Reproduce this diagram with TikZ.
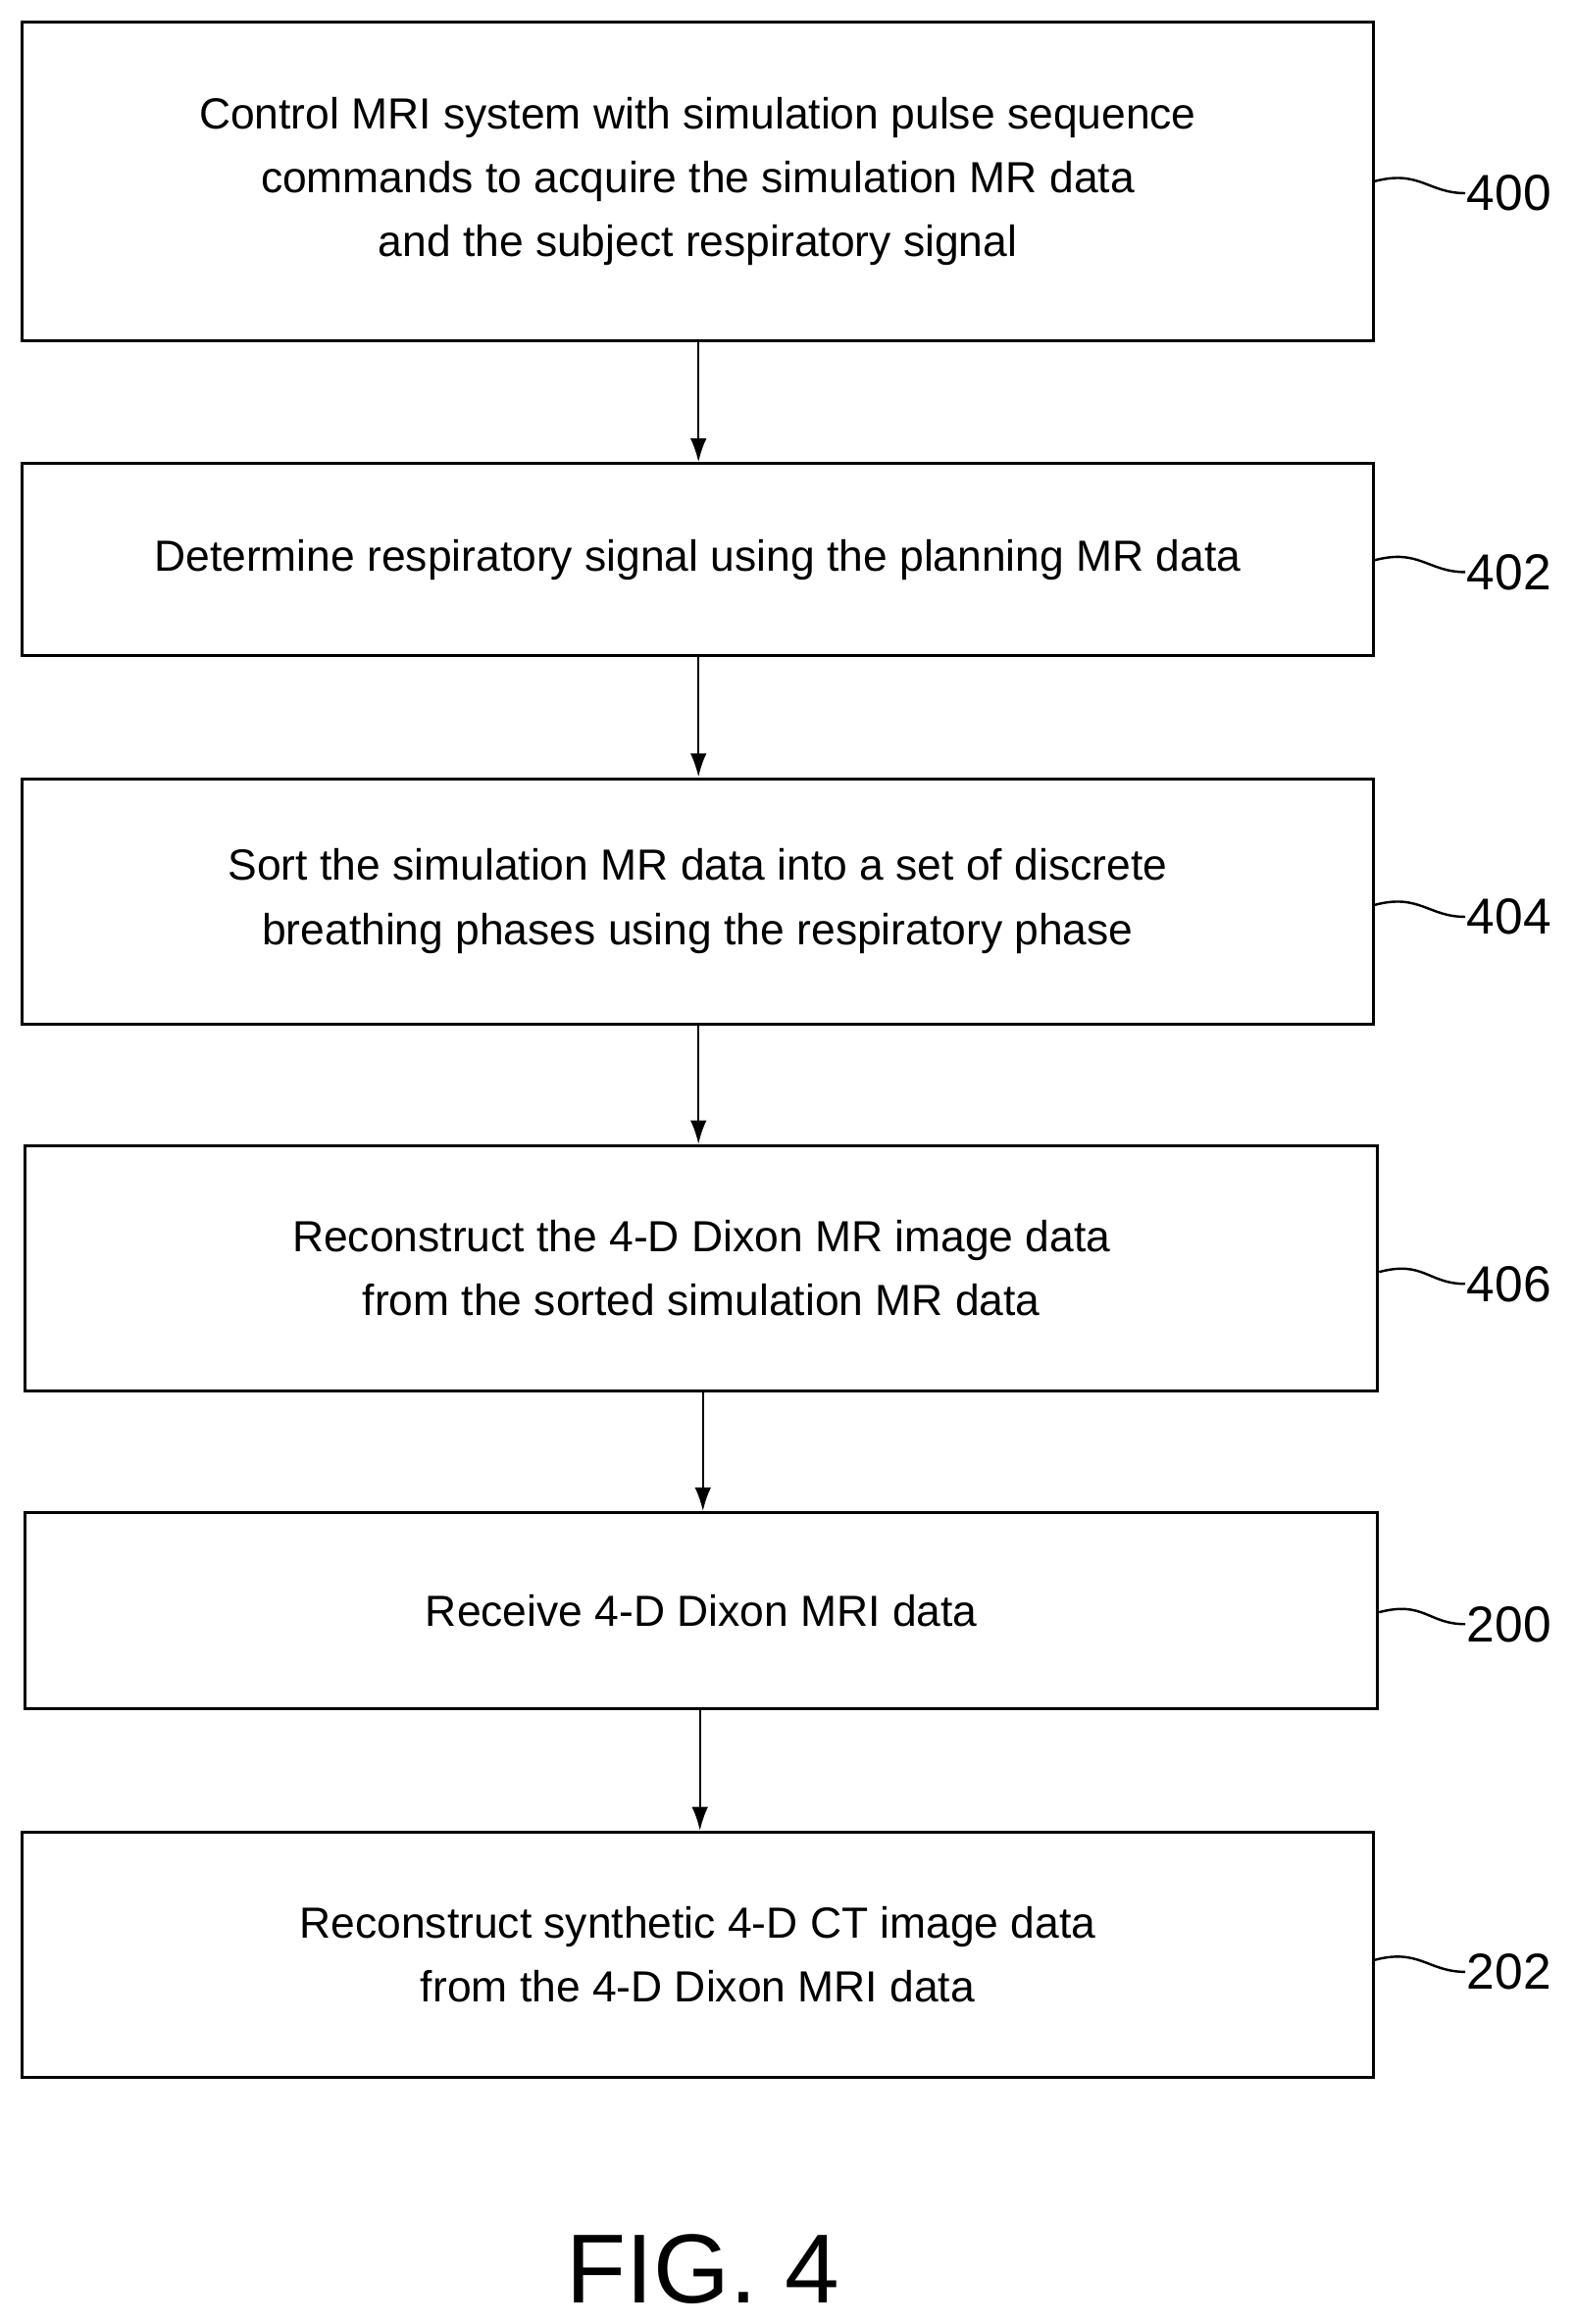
\documentclass[tikz,border=0pt]{standalone}
\usepackage{fontspec}
\setmainfont{Liberation Sans}
\usetikzlibrary{arrows.meta}
\begin{document}
\begin{tikzpicture}[x=1pt,y=-1pt,
  box/.style={draw,line width=2pt,align=center,font=\fontsize{29.3}{43}\selectfont,inner sep=0pt},
  lab/.style={font=\fontsize{34}{36}\selectfont,anchor=west,inner sep=1pt},
  arr/.style={line width=1.6pt,-{Latex[length=16pt,width=11pt]}},
  sq/.style={line width=1.6pt}]
\useasboundingbox (0,0) rectangle (1059,1564);
\newcommand{\bx}[6]{%
  \node[box,minimum width=#3-#2,minimum height=#5-#4] (#1) at ({(#2+#3)/2},{(#4+#5)/2}) {#6};}
\bx{b1}{15}{924}{15}{229}{Control MRI system with simulation pulse sequence\\commands to acquire the simulation MR data\\and the subject respiratory signal}
\bx{b2}{15}{924}{312}{441}{Determine respiratory signal using the planning MR data}
\bx{b3}{15}{924}{524}{689}{Sort the simulation MR data into a set of discrete\\breathing phases using the respiratory phase}
\bx{b4}{17}{927}{771}{936}{Reconstruct the 4-D Dixon MR image data\\from the sorted simulation MR data}
\bx{b5}{17}{927}{1018}{1150}{Receive 4-D Dixon MRI data}
\bx{b6}{15}{924}{1233}{1398}{Reconstruct synthetic 4-D CT image data\\from the 4-D Dixon MRI data}
\foreach \a/\b/\x in {b1/b2/470,b2/b3/470,b3/b4/470,b4/b5/473,b5/b6/471} \draw[arr] (\a.south-|\x,0) -- (\b.north-|\x,0);
\newcommand{\lb}[4]{%
  \node[lab] (#1) at (986,#3) {#4};
  \draw[sq] (#2.east|-0,#3-8) .. controls +(30,-8) and +(-25,0) .. (#1.west);}
\lb{l1}{b1}{130}{400}
\lb{l2}{b2}{385}{402}
\lb{l3}{b3}{617}{404}
\lb{l4}{b4}{864}{406}
\lb{l5}{b5}{1093}{200}
\lb{l6}{b6}{1327}{202}
\node[font=\fontsize{66}{70}\selectfont] (fig) at (473,1527) {FIG. 4};
\end{tikzpicture}
\end{document}
